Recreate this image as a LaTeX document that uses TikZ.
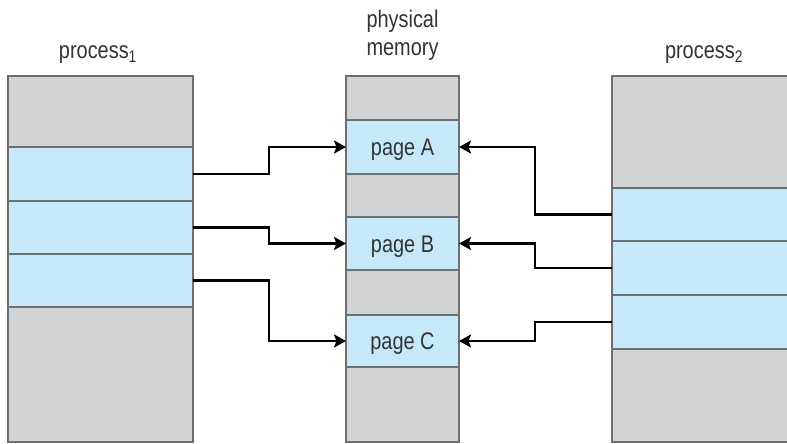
\documentclass[tikz,border=0pt]{standalone}
\usepackage{fontspec}
\setmainfont{Liberation Sans}[FakeStretch=0.83]
\usetikzlibrary{arrows.meta}
\definecolor{cellgray}{HTML}{D1D3D4}
\definecolor{cellblue}{HTML}{C6E9F9}
\definecolor{cellline}{HTML}{6D6E71}
\begin{document}
\begin{tikzpicture}[x=1pt,y=-1pt,
  cell/.style={draw=cellline, line width=1.3pt, rectangle, inner sep=0pt, outer sep=0pt,
    font=\fontsize{24}{28}\selectfont, text=black!80, text height=17pt, text depth=0pt},
  gcell/.style={cell, fill=cellgray},
  bcell/.style={cell, fill=cellblue},
  lbl/.style={font=\fontsize{24}{28}\selectfont, text=black!80, inner sep=0pt},
  arr/.style={line width=2.8pt, -{Stealth[length=12pt,width=13pt,inset=2.5pt]}}]
\useasboundingbox (0,0) rectangle (787,444);
\clip (0,0) rectangle (787,444);
% process 1 (x 8-193)
\node[gcell, minimum width=185pt, minimum height=71pt]  (p1g1) at (100.5,111.5) {};
\node[bcell, minimum width=185pt, minimum height=54pt]  (p1a)  at (100.5,174) {};
\node[bcell, minimum width=185pt, minimum height=53pt]  (p1b)  at (100.5,227.5) {};
\node[bcell, minimum width=185pt, minimum height=53pt]  (p1c)  at (100.5,280.5) {};
\node[gcell, minimum width=185pt, minimum height=135pt] (p1g2) at (100.5,374.5) {};
% physical memory (x 346-459)
\node[gcell, minimum width=113pt, minimum height=44pt] (mg1) at (402.5,98) {};
\node[bcell, minimum width=113pt, minimum height=54pt] (mA)  at (402.5,147) {page A};
\node[gcell, minimum width=113pt, minimum height=43pt] (mg2) at (402.5,195.5) {};
\node[bcell, minimum width=113pt, minimum height=53pt] (mB)  at (402.5,243.5) {page B};
\node[gcell, minimum width=113pt, minimum height=45pt] (mg3) at (402.5,292.5) {};
\node[bcell, minimum width=113pt, minimum height=52pt] (mC)  at (402.5,341) {page C};
\node[gcell, minimum width=113pt, minimum height=75pt] (mg4) at (402.5,404.5) {};
% process 2 (x 612-790)
\node[gcell, minimum width=178pt, minimum height=112pt] (p2g1) at (701,132) {};
\node[bcell, minimum width=178pt, minimum height=53pt]  (p2a)  at (701,214.5) {};
\node[bcell, minimum width=178pt, minimum height=54pt]  (p2b)  at (701,268) {};
\node[bcell, minimum width=178pt, minimum height=54pt]  (p2c)  at (701,322) {};
\node[gcell, minimum width=178pt, minimum height=93pt]  (p2g2) at (701,395.5) {};
% labels
\node[lbl, anchor=base] (t1) at (98,59) {process\textsubscript{1}};
\node[lbl, anchor=base] (t2) at (704,59) {process\textsubscript{2}};
\node[lbl, align=center, anchor=base] (tm) at (402.5,56) {physical\\memory};
% arrows
\draw[arr] (p1a.east) -- ++(76,0) |- (mA.west);
\draw[arr] (p1b.east) -- ++(76,0) |- (mB.west);
\draw[arr] (p1c.east) -- ++(76,0) |- (mC.west);
\draw[arr] (p2a.west) -- ++(-77,0) |- (mA.east);
\draw[arr] (p2b.west) -- ++(-77,0) |- (mB.east);
\draw[arr] (p2c.west) -- ++(-77,0) |- (mC.east);
\end{tikzpicture}
\end{document}
